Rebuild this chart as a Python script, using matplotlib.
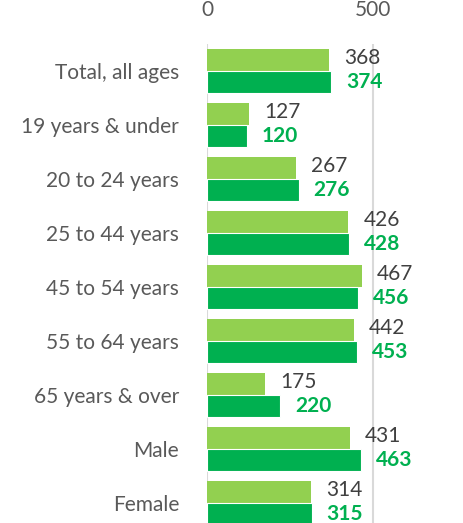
import matplotlib.pyplot as plt
import numpy as np

plt.rcParams['font.family'] = ['Lato', 'DejaVu Sans']

categories = ['Total, all ages', '19 years & under', '20 to 24 years', '25 to 44 years',
              '45 to 54 years', '55 to 64 years', '65 years & over', 'Male', 'Female']
light_vals = [368, 127, 267, 426, 467, 442, 175, 431, 314]
dark_vals = [374, 120, 276, 428, 456, 453, 220, 463, 315]

light_green = '#92D050'
dark_green = '#00B050'
gray_text = '#595959'

fig = plt.figure(figsize=(4.64, 5.23), dpi=100)
ax = fig.add_axes([207 / 464, -7 / 523, (464 - 207) / 464, 486 / 523])

y = np.arange(len(categories))
h = 0.41
ax.barh(y - h / 2, light_vals, height=h, color=light_green, zorder=3)
ax.barh(y + h / 2, dark_vals, height=h, color=dark_green, edgecolor='white', linewidth=0.8, zorder=3)

for i in range(len(categories)):
    ax.text(light_vals[i] + 45, y[i] - h / 2 - 0.03, str(light_vals[i]), fontsize=15,
            color='#404040', va='center', ha='left')
    ax.text(dark_vals[i] + 45, y[i] + h / 2 - 0.01, str(dark_vals[i]), fontsize=15,
            color=dark_green, fontweight='bold', va='center', ha='left')

ax.set_xlim(0, 774)
ax.set_ylim(len(categories) - 0.5, -0.5)
ax.set_xticks([0, 500])
ax.xaxis.tick_top()
ax.tick_params(axis='x', length=0, labelsize=15, labelcolor=gray_text, pad=17)
ax.set_yticks(y)
ax.set_yticklabels(categories)
ax.tick_params(axis='y', length=0, labelsize=15, labelcolor=gray_text, pad=20)
ax.grid(axis='x', color='#D9D9D9', linewidth=1.5, zorder=0)
for s in ax.spines.values():
    s.set_visible(False)

plt.savefig('out.png', dpi=100)
